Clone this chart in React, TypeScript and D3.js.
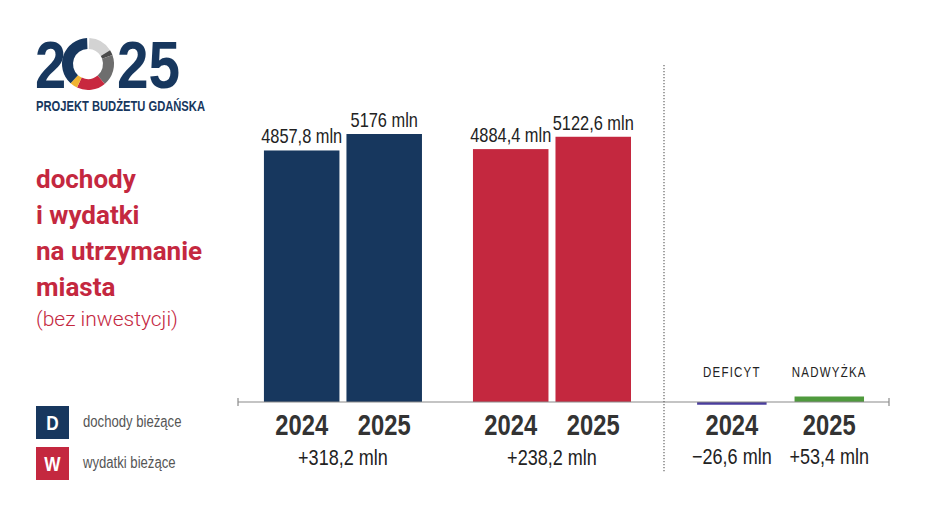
import React from 'react';
import * as d3 from 'd3';

// chart data
const groups = ['D', 'W'];
const years = ['2024', '2025'];
const dochody = [4857.8, 5176];
const wydatki = [4884.4, 5122.6];
const dochodyLabels = ['4857,8 mln', '5176 mln'];
const wydatkiLabels = ['4884,4 mln', '5122,6 mln'];
const groupChange = ['+318,2 mln', '+238,2 mln'];
const balance = [-26.6, 53.4];
const balanceLabels = ['\u221226,6 mln', '+53,4 mln'];
const balanceTitles = ['DEFICYT', 'NADWYŻKA'];
const titleLines = ['dochody', 'i wydatki', 'na utrzymanie', 'miasta'];
const subtitle = '(bez inwestycji)';
const legendKeys = ['D', 'W'];
const legendLabels = ['dochody bieżące', 'wydatki bieżące'];

// logo ring segments, degrees clockwise from top
const ringStops = [3, 58, 70, 140, 205, 222, 358];
const ringColors = ['#d3d3d3', '#4a4a4a', '#6e6e6e', '#c8283f', '#f0b431', '#17375e'];

const W = 940;
const H = 529;
const NAVY = '#17375e';
const RED = '#c4283f';
const GREEN = '#4f9a3d';
const PURPLE = '#4a3d9e';
const SANS = '"Liberation Sans", Arial, sans-serif';
const ROBOTO = 'Roboto, "Noto Sans", sans-serif';

const baseY = 402;
const axisX0 = 238;
const splitX = 664;
const axisX1 = 889;

// narrow text: Liberation Sans squeezed horizontally
const NText: React.FC<{
  x: number; y: number; size: number; anchor?: string; weight?: number;
  fill?: string; ls?: number; sx?: number; children: React.ReactNode;
}> = ({ x, y, size, anchor = 'start', weight = 400, fill = '#222', ls = 0, sx = 0.82, children }) => (
  <text
    transform={`translate(${x},${y}) scale(${sx},1)`}
    textAnchor={anchor}
    fontFamily={SANS}
    fontSize={size}
    fontWeight={weight}
    letterSpacing={ls}
    fill={fill}
  >
    {children}
  </text>
);

export default function App() {
  const y = d3.scaleLinear().domain([0, 5176]).range([baseY, 134]);
  const yBal = d3.scaleLinear().domain([0, 53.4]).range([baseY, 396.5]);

  const xGroup = d3.scaleBand<string>().domain(groups).range([axisX0, splitX])
    .paddingInner(0.244).paddingOuter(0.141).align(0.44);
  const xYear = d3.scaleBand<string>().domain(years).range([0, xGroup.bandwidth()])
    .paddingInner(0.085);

  const xBalGroup = d3.scaleBand<string>().domain(['B']).range([splitX, axisX1])
    .paddingOuter(0.174).align(0.57);
  const xBalYear = d3.scaleBand<string>().domain(years).range([0, xBalGroup.bandwidth()])
    .paddingInner(0.287);

  const series = [dochody, wydatki];
  const seriesLabels = [dochodyLabels, wydatkiLabels];
  const colors = [NAVY, RED];

  const arc = d3.arc<{ a0: number; a1: number }>()
    .innerRadius(15)
    .outerRadius(26)
    .startAngle(d => (d.a0 * Math.PI) / 180)
    .endAngle(d => (d.a1 * Math.PI) / 180);

  return (
    <div style={{ position: 'absolute', left: 0, top: 0 }}>
      <svg width={W} height={H} style={{ display: 'block', background: '#fff' }}>
        {/* logo */}
        <g>
          <NText x={35} y={88} size={66} weight={700} fill={NAVY} sx={0.85}>2</NText>
          <g transform="translate(88,64)">
            {ringColors.map((c, i) => (
              <path key={i} d={arc({ a0: ringStops[i], a1: ringStops[i + 1] }) || ''} fill={c} />
            ))}
          </g>
          <NText x={117} y={88} size={66} weight={700} fill={NAVY} sx={0.86}>25</NText>
          <NText x={36} y={111} size={14} weight={700} fill={NAVY} sx={0.8}>
            PROJEKT BUDŻETU GDAŃSKA
          </NText>
        </g>

        {/* title */}
        {titleLines.map((t, i) => (
          <text key={t} x={36} y={188 + i * 36} fontFamily={ROBOTO} fontWeight={700} fontSize={26} fill={RED}>
            {t}
          </text>
        ))}
        <text x={36} y={326} fontFamily={ROBOTO} fontWeight={300} fontSize={21} fill={RED}>{subtitle}</text>

        {/* legend */}
        {legendKeys.map((k, i) => (
          <g key={k} transform={`translate(36,${406 + i * 41})`}>
            <rect width={33} height={33} fill={colors[i]} />
            <NText x={16.5} y={24} anchor="middle" size={21} weight={700} fill="#fff">{k}</NText>
            <NText x={47} y={21} size={16} fill="#555">{legendLabels[i]}</NText>
          </g>
        ))}

        {/* main bars */}
        {groups.map((g, gi) => {
          const gx = xGroup(g) || 0;
          return (
            <g key={g} transform={`translate(${gx},0)`}>
              {years.map((yr, yi) => {
                const v = series[gi][yi];
                const bx = xYear(yr) || 0;
                const cx = bx + xYear.bandwidth() / 2;
                return (
                  <g key={yr}>
                    <rect x={bx} y={y(v)} width={xYear.bandwidth()} height={baseY - y(v)} fill={colors[gi]} />
                    <NText x={cx} y={y(v) - 7} anchor="middle" size={20}>
                      {seriesLabels[gi][yi]}
                    </NText>
                    <NText x={cx} y={435} anchor="middle" size={29} weight={700} fill="#333">
                      {yr}
                    </NText>
                  </g>
                );
              })}
              <NText x={xGroup.bandwidth() / 2} y={465} anchor="middle" size={22}>
                {groupChange[gi]}
              </NText>
            </g>
          );
        })}

        {/* balance bars */}
        <g transform={`translate(${xBalGroup('B') || 0},0)`}>
          {years.map((yr, yi) => {
            const v = balance[yi];
            const bx = xBalYear(yr) || 0;
            const cx = bx + xBalYear.bandwidth() / 2;
            const top = v >= 0 ? yBal(v) : baseY;
            const h = Math.abs(yBal(v) - baseY);
            return (
              <g key={yr}>
                <rect x={bx} y={top} width={xBalYear.bandwidth()} height={h} fill={v >= 0 ? GREEN : PURPLE} />
                <NText x={cx} y={377} anchor="middle" size={14} ls={1.5}>
                  {balanceTitles[yi]}
                </NText>
                <NText x={cx} y={435} anchor="middle" size={29} weight={700} fill="#333">
                  {yr}
                </NText>
                <NText x={cx} y={464} anchor="middle" size={22}>
                  {balanceLabels[yi]}
                </NText>
              </g>
            );
          })}
        </g>

        {/* axis */}
        <line x1={axisX0} x2={axisX1} y1={baseY} y2={baseY} stroke="#8a8a8a" strokeWidth={1.2} />
        <line x1={axisX0} x2={axisX0} y1={baseY - 4} y2={baseY + 4} stroke="#8a8a8a" strokeWidth={1.2} />
        <line x1={axisX1} x2={axisX1} y1={baseY - 4} y2={baseY + 4} stroke="#8a8a8a" strokeWidth={1.2} />

        {/* separator */}
        <line x1={splitX} x2={splitX} y1={65} y2={472} stroke="#666" strokeWidth={1.2} strokeDasharray="1.2,1.8" />
      </svg>
    </div>
  );
}
